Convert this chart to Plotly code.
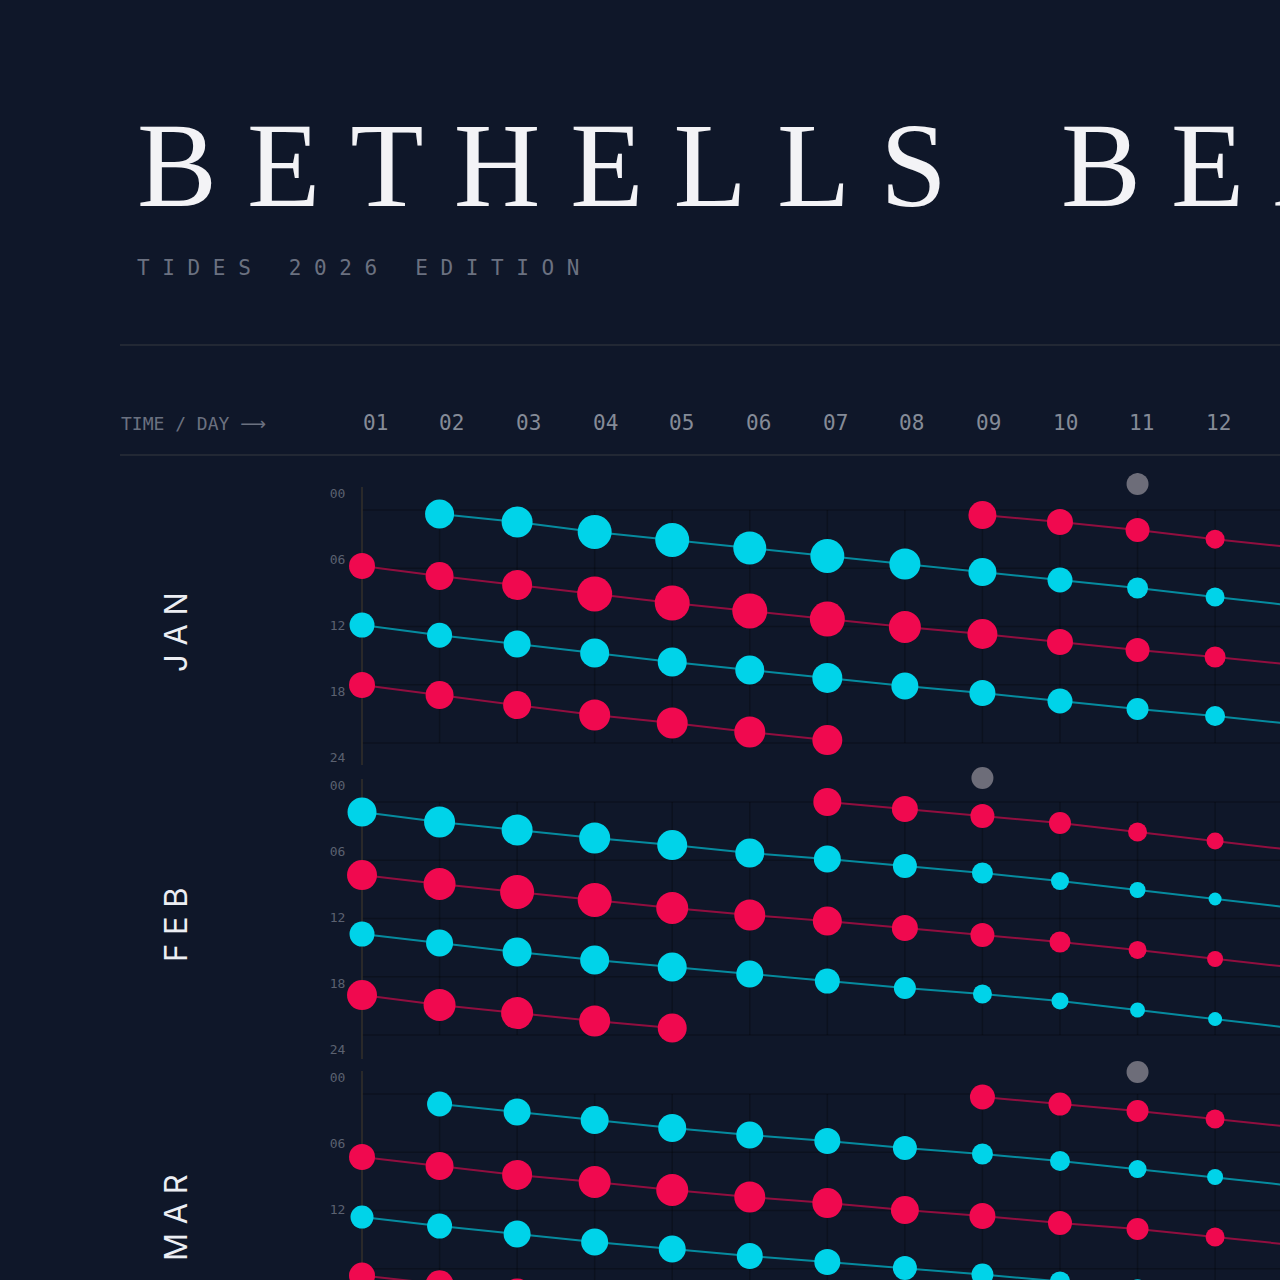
import plotly.graph_objects as go

# ---------------- colours ----------------
BG = "#0f1729"
CYAN = "#00d3e9"
RED = "#f0094f"
CYAN_LINE = "rgba(0,211,233,0.62)"
RED_LINE = "rgba(240,9,79,0.58)"
GRAY_DOT = "#6d6d79"

# ---------------- text ----------------
title_text = "BETHELLS BEACH"
subtitle_words = ["TIDES", "2026", "EDITION"]
header_label = "TIME / DAY"
day_labels = ["01", "02", "03", "04", "05", "06", "07", "08", "09", "10", "11", "12"]
hour_marks = [0, 6, 12, 18, 24]
hour_labels = ["00", "06", "12", "18", "24"]
months = ["JAN", "FEB", "MAR"]

# ---------------- data: tide times (hour of day) and marker sizes ----------------
# JANUARY
jan_low1_days = [2, 3, 4, 5, 6, 7, 8, 9, 10, 11, 12, 13]
jan_low1_hours = [0.41, 1.24, 2.27, 3.09, 3.91, 4.74, 5.56, 6.39, 7.21, 8.03, 8.96, 9.85]
jan_low1_sizes = [29, 31, 34, 34, 33, 34, 31, 28, 25, 21, 19, 17]

jan_high1_days = [1, 2, 3, 4, 5, 6, 7, 8, 9, 10, 11, 12, 13]
jan_high1_hours = [5.77, 6.80, 7.73, 8.65, 9.58, 10.40, 11.23, 12.05, 12.77, 13.60, 14.42, 15.14, 15.95]
jan_high1_sizes = [26, 28, 30, 35, 35, 35, 35, 32, 30, 26, 24, 21, 19]

jan_low2_days = [1, 2, 3, 4, 5, 6, 7, 8, 9, 10, 11, 12, 13]
jan_low2_hours = [11.85, 12.90, 13.80, 14.73, 15.66, 16.48, 17.30, 18.13, 18.85, 19.67, 20.50, 21.22, 22.05]
jan_low2_sizes = [25, 25, 27, 29, 29, 29, 30, 27, 26, 25, 22, 20, 18]

jan_high2_days = [1, 2, 3, 4, 5, 6, 7]
jan_high2_hours = [18.03, 19.06, 20.09, 21.12, 21.94, 22.87, 23.69]
jan_high2_sizes = [26, 28, 28, 31, 31, 31, 30]

jan_high3_days = [9, 10, 11, 12, 13]
jan_high3_hours = [0.52, 1.24, 2.06, 3.00, 3.85]
jan_high3_sizes = [28, 26, 24, 19, 17]

jan_moon_days = [11]
jan_moon_hours = [-2.68]

# FEBRUARY
feb_low1_days = [1, 2, 3, 4, 5, 6, 7, 8, 9, 10, 11, 12, 13]
feb_low1_hours = [1.03, 2.06, 2.88, 3.71, 4.43, 5.25, 5.87, 6.59, 7.31, 8.14, 9.06, 9.99, 10.90]
feb_low1_sizes = [29, 31, 31, 31, 30, 29, 27, 24, 21, 18, 16, 13, 12]

feb_high1_days = [1, 2, 3, 4, 5, 6, 7, 8, 9, 10, 11, 12, 13]
feb_high1_hours = [7.52, 8.45, 9.27, 10.09, 10.92, 11.64, 12.26, 12.98, 13.70, 14.42, 15.24, 16.17, 17.05]
feb_high1_sizes = [30, 32, 34, 34, 32, 31, 29, 26, 24, 21, 18, 16, 14]

feb_low2_days = [1, 2, 3, 4, 5, 6, 7, 8, 9, 10, 11, 12, 13]
feb_low2_hours = [13.60, 14.52, 15.45, 16.27, 16.99, 17.72, 18.44, 19.16, 19.78, 20.50, 21.43, 22.36, 23.30]
feb_low2_sizes = [25, 27, 29, 29, 29, 27, 25, 22, 19, 17, 15, 14, 12]

feb_high2_days = [1, 2, 3, 4, 5]
feb_high2_hours = [19.88, 20.91, 21.74, 22.56, 23.28]
feb_high2_sizes = [30, 32, 32, 31, 29]

feb_high3_days = [7, 8, 9, 10, 11, 12, 13]
feb_high3_hours = [0.00, 0.72, 1.44, 2.16, 3.09, 4.02, 4.95]
feb_high3_sizes = [28, 26, 24, 22, 19, 17, 15]

feb_moon_days = [9]
feb_moon_hours = [-2.47]

# MARCH
mar_low1_days = [2, 3, 4, 5, 6, 7, 8, 9, 10, 11, 12, 13]
mar_low1_hours = [1.03, 1.85, 2.68, 3.50, 4.22, 4.84, 5.56, 6.18, 6.90, 7.73, 8.55, 9.45]
mar_low1_sizes = [25, 27, 28, 28, 27, 26, 24, 21, 20, 18, 16, 14]

mar_high1_days = [1, 2, 3, 4, 5, 6, 7, 8, 9, 10, 11, 12, 13]
mar_high1_hours = [6.49, 7.42, 8.34, 9.06, 9.89, 10.61, 11.23, 11.95, 12.57, 13.29, 13.91, 14.73, 15.55]
mar_high1_sizes = [26, 28, 30, 32, 32, 31, 30, 28, 26, 24, 22, 19, 17]

mar_low2_days = [1, 2, 3, 4, 5, 6, 7, 8, 9, 10, 11, 12, 13]
mar_low2_hours = [12.67, 13.60, 14.42, 15.24, 15.97, 16.69, 17.30, 17.92, 18.60, 19.30, 20.00, 20.80, 21.60]
mar_low2_sizes = [23, 25, 27, 27, 27, 26, 26, 24, 22, 20, 18, 16, 14]

mar_high2_days = [1, 2, 3, 4, 5, 6, 7]
mar_high2_hours = [18.70, 19.60, 20.50, 21.30, 22.10, 22.90, 23.60]
mar_high2_sizes = [26, 28, 29, 30, 30, 29, 28]

mar_high3_days = [9, 10, 11, 12, 13]
mar_high3_hours = [0.31, 1.03, 1.75, 2.58, 3.40]
mar_high3_sizes = [25, 23, 22, 19, 17]

mar_moon_days = [11]
mar_moon_hours = [-2.27]

panels = [
    ("y", [
        ("low", jan_low1_days, jan_low1_hours, jan_low1_sizes),
        ("high", jan_high1_days, jan_high1_hours, jan_high1_sizes),
        ("low", jan_low2_days, jan_low2_hours, jan_low2_sizes),
        ("high", jan_high2_days, jan_high2_hours, jan_high2_sizes),
        ("high", jan_high3_days, jan_high3_hours, jan_high3_sizes),
    ], jan_moon_days, jan_moon_hours),
    ("y2", [
        ("low", feb_low1_days, feb_low1_hours, feb_low1_sizes),
        ("high", feb_high1_days, feb_high1_hours, feb_high1_sizes),
        ("low", feb_low2_days, feb_low2_hours, feb_low2_sizes),
        ("high", feb_high2_days, feb_high2_hours, feb_high2_sizes),
        ("high", feb_high3_days, feb_high3_hours, feb_high3_sizes),
    ], feb_moon_days, feb_moon_hours),
    ("y3", [
        ("low", mar_low1_days, mar_low1_hours, mar_low1_sizes),
        ("high", mar_high1_days, mar_high1_hours, mar_high1_sizes),
        ("low", mar_low2_days, mar_low2_hours, mar_low2_sizes),
        ("high", mar_high2_days, mar_high2_hours, mar_high2_sizes),
        ("high", mar_high3_days, mar_high3_hours, mar_high3_sizes),
    ], mar_moon_days, mar_moon_hours),
]

# ---------------- layout geometry ----------------
W = H = 1280
PX_PER_H = 9.709
def py(px):  # pixel from top -> paper y
    return 1 - px / H
def pxx(px):
    return px / W

X_RANGE = [-3.668, 12.837]
AXIS_X = pxx(362)
PAD = 14  # extra px above each panel so the moon dots are inside the range
panel_tops = [487, 779, 1071]
panel_bottoms = [767, 1059, 1351]
LINE_TOP_H = -2.37
panel_domains, panel_ranges = [], []
for t, b in zip(panel_tops, panel_bottoms):
    top = t - PAD
    bot = min(b, H)
    panel_domains.append([py(bot), py(top)])
    panel_ranges.append([LINE_TOP_H + (bot - t) / PX_PER_H, LINE_TOP_H - PAD / PX_PER_H])
tick_positions = [-1.75 + h * 1.133 for h in hour_marks]

fig = go.Figure()

for yref, series, moon_d, moon_h in panels:
    for kind, d, h, s in series:
        fig.add_trace(go.Scatter(
            x=d, y=h, xaxis="x", yaxis=yref, mode="lines+markers",
            line=dict(color=CYAN_LINE if kind == "low" else RED_LINE, width=2),
            marker=dict(color=CYAN if kind == "low" else RED, size=s, opacity=1, line=dict(width=0)),
            hoverinfo="skip", showlegend=False,
        ))
    fig.add_trace(go.Scatter(
        x=moon_d, y=moon_h, xaxis="x", yaxis=yref, mode="markers",
        marker=dict(color=GRAY_DOT, size=22, opacity=1, line=dict(width=0)),
        hoverinfo="skip", showlegend=False,
    ))

shapes = []
grid_col = "rgba(0,0,0,0.26)"
for yref in ["y", "y2", "y3"]:
    for hm in hour_marks:
        shapes.append(dict(type="line", xref="x", yref=yref, x0=1, x1=14, y0=hm, y1=hm,
                           line=dict(color=grid_col, width=1.5), layer="below"))
    for d in range(2, 15):
        shapes.append(dict(type="line", xref="x", yref=yref, x0=d, x1=d, y0=0, y1=24,
                           line=dict(color=grid_col, width=1.5), layer="below"))
    # day-1 axis line
    shapes.append(dict(type="line", xref="x", yref=yref, x0=1, x1=1, y0=LINE_TOP_H, y1=LINE_TOP_H + 280 / PX_PER_H,
                       line=dict(color="#34302b", width=1.5), layer="below"))
# horizontal rules
for ypx in [345, 455]:
    shapes.append(dict(type="line", xref="paper", yref="paper", x0=pxx(120), x1=1,
                       y0=py(ypx), y1=py(ypx), line=dict(color="#2a2f39", width=1.5)))

annotations = []
NB = "\u00a0"
# title
title_str = (NB * 3 + "\u2009").join(NB.join(list(w)) for w in title_text.split(" "))
annotations.append(dict(text=title_str, xref="paper", yref="paper", x=pxx(135), y=py(166),
                        xanchor="left", yanchor="middle", showarrow=False,
                        font=dict(family="Liberation Serif, serif", size=120, color="#f3f3f6")))
# subtitle
sub_str = (NB * 3).join(NB.join(list(w)) for w in subtitle_words)
annotations.append(dict(text=sub_str, xref="paper", yref="paper", x=pxx(135), y=py(268),
                        xanchor="left", yanchor="middle", showarrow=False,
                        font=dict(family="DejaVu Sans Mono, monospace", size=21, color="#6b7180")))
# header
annotations.append(dict(text=header_label.replace(" ", NB) + NB + "<span style='font-family:DejaVu Sans'>\u27f6</span>",
                        xref="paper", yref="paper", x=pxx(119), y=py(423),
                        xanchor="left", yanchor="middle", showarrow=False,
                        font=dict(family="DejaVu Sans Mono, monospace", size=18, color="#6b7180")))
for i, lab in enumerate(day_labels):
    annotations.append(dict(text=lab, xref="x", yref="paper", x=i + 1 + 0.168 - 0.0113 * i, y=py(423),
                            xanchor="center", yanchor="middle", showarrow=False,
                            font=dict(family="DejaVu Sans Mono, monospace", size=21, color="#858b97")))
# month labels
for i, m in enumerate(months):
    annotations.append(dict(text=NB.join(list(m)), xref="paper", yref="paper", x=pxx(175), y=py(632 + 293 * i),
                            xanchor="center", yanchor="middle", textangle=-90, showarrow=False,
                            font=dict(family="Inter, DejaVu Sans, sans-serif", size=31, color="#eceef3")))

layout = dict(
    width=W, height=H, margin=dict(l=0, r=0, t=0, b=0),
    paper_bgcolor=BG, plot_bgcolor=BG,
    xaxis=dict(domain=[0, 1], range=X_RANGE, visible=False, fixedrange=True),
    shapes=shapes, annotations=annotations, showlegend=False,
)
for i, (dom, rng) in enumerate(zip(panel_domains, panel_ranges)):
    key = "yaxis" if i == 0 else f"yaxis{i + 1}"
    layout[key] = dict(
        domain=dom, range=rng, anchor="free", position=AXIS_X,
        showgrid=False, zeroline=False, showline=False,
        tickmode="array", tickvals=tick_positions, ticktext=hour_labels,
        ticks="outside", ticklen=14, tickcolor="rgba(0,0,0,0)",
        tickfont=dict(family="DejaVu Sans Mono, monospace", size=13, color="#5b6170"),
        fixedrange=True,
    )
fig.update_layout(**layout)
fig.write_html("out.html")
